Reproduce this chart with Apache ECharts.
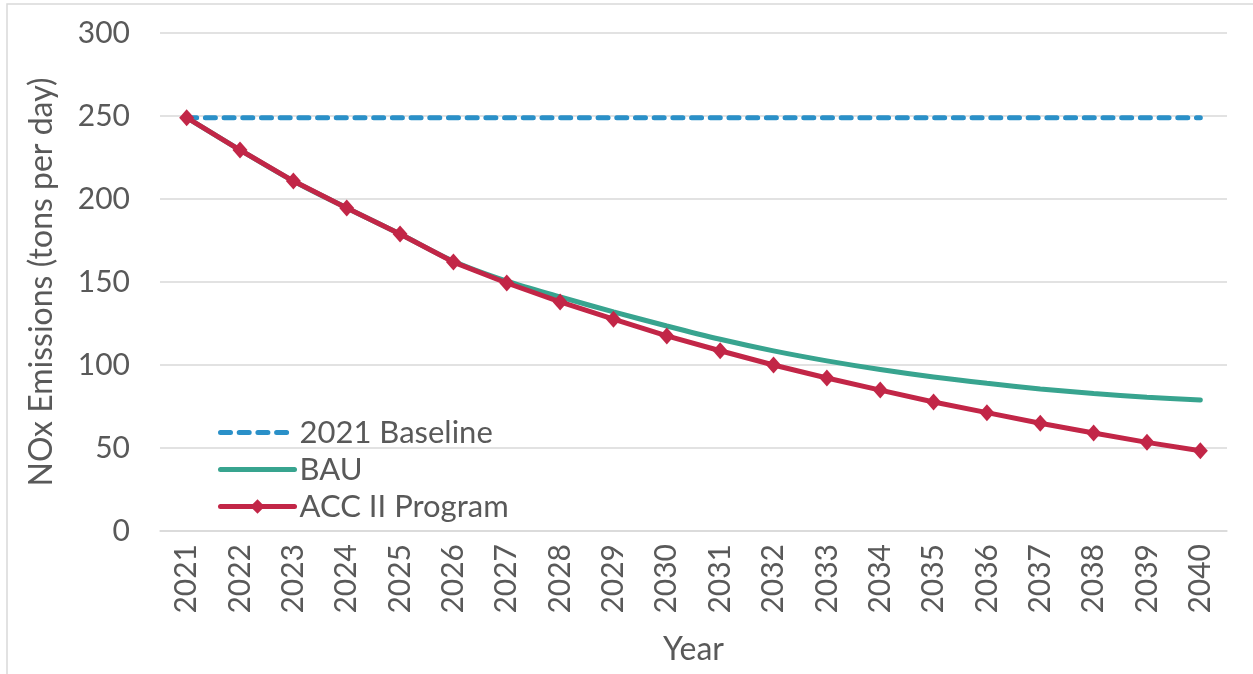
<!DOCTYPE html>
<html>
<head>
<meta charset="utf-8">
<style>
  html, body { margin: 0; padding: 0; background: #fff; }
  #chart { width: 1253px; height: 674px; }
</style>
<script src="https://cdn.jsdelivr.net/npm/echarts@6/dist/echarts.min.js"></script>
</head>
<body>
<div id="chart"></div>
<script>
// NOx emissions outlook, tons per day
const years = ['2021','2022','2023','2024','2025','2026','2027','2028','2029','2030',
               '2031','2032','2033','2034','2035','2036','2037','2038','2039','2040'];
const baseline = [249,249,249,249,249,249,249,249,249,249,249,249,249,249,249,249,249,249,249,249];
const bau = [249,229.5,210.8,194.6,178.9,162.5,150.5,141,132,123.5,115.5,108.5,102.5,97.3,92.8,89,85.6,82.8,80.6,78.9];
const accII = [249,229.5,210.8,194.6,178.9,162,149.4,138,127.6,117.5,108.6,100,92.2,84.9,77.7,71.3,64.9,59,53.4,48.4];

const FONT = 'Lato, "Open Sans", sans-serif';
const TEXT = '#595959';
const LINE_W = 5;

const chart = echarts.init(document.getElementById('chart'));
chart.setOption({
  animation: false,
  backgroundColor: '#fff',
  textStyle: { fontFamily: FONT },
  graphic: [{
    type: 'rect',
    shape: { x: 7, y: 4, width: 1260, height: 690 },
    style: { fill: 'none', stroke: '#D9D9D9', lineWidth: 1.5 },
    silent: true, z: -1
  }],
  grid: { left: 160, right: 26, top: 33, bottom: 143 },
  legend: {
    orient: 'vertical',
    left: 213,
    top: 412,
    itemWidth: 74,
    itemHeight: 18,
    itemGap: 6,
    itemTextGap: 4,
    textStyle: { fontFamily: FONT, fontSize: 31, lineHeight: 31, color: TEXT },
    data: [
      { name: '2021 Baseline', itemStyle: { opacity: 0 }, lineStyle: { width: LINE_W } },
      { name: 'BAU', itemStyle: { opacity: 0 }, lineStyle: { width: LINE_W } },
      { name: 'ACC II Program', lineStyle: { width: LINE_W } }
    ]
  },
  xAxis: {
    type: 'category',
    data: years,
    boundaryGap: true,
    name: 'Year',
    nameLocation: 'middle',
    nameGap: 103,
    nameTextStyle: { fontFamily: FONT, fontSize: 32, color: TEXT },
    axisLine: { show: true, lineStyle: { color: '#D9D9D9', width: 1.5 } },
    axisTick: { show: false },
    axisLabel: { rotate: 90, margin: 13, fontFamily: FONT, fontSize: 30, color: TEXT, interval: 0 }
  },
  yAxis: {
    type: 'value',
    min: 0, max: 300, interval: 50,
    name: 'NOx Emissions (tons per day)',
    nameLocation: 'middle',
    nameGap: 102,
    nameTextStyle: { fontFamily: FONT, fontSize: 32, color: TEXT },
    axisLine: { show: false },
    axisTick: { show: false },
    axisLabel: { margin: 30, fontFamily: FONT, fontSize: 30, color: TEXT },
    splitLine: { lineStyle: { color: '#D9D9D9', width: 1.5 } }
  },
  series: [
    {
      name: '2021 Baseline',
      type: 'line',
      data: baseline,
      symbol: 'none',
      z: 2,
      itemStyle: { color: '#2A90C8' },
      lineStyle: { color: '#2A90C8', width: LINE_W, type: [10, 8.7], cap: 'round' }
    },
    {
      name: 'BAU',
      type: 'line',
      data: bau,
      symbol: 'none',
      smooth: 0.3,
      z: 3,
      itemStyle: { color: '#38A48F' },
      lineStyle: { color: '#38A48F', width: LINE_W, cap: 'round' }
    },
    {
      name: 'ACC II Program',
      type: 'line',
      data: accII,
      symbol: 'diamond',
      symbolSize: [15, 17],
      z: 4,
      itemStyle: { color: '#C22647' },
      lineStyle: { color: '#C22647', width: LINE_W, cap: 'round' }
    }
  ]
});
</script>
</body>
</html>
